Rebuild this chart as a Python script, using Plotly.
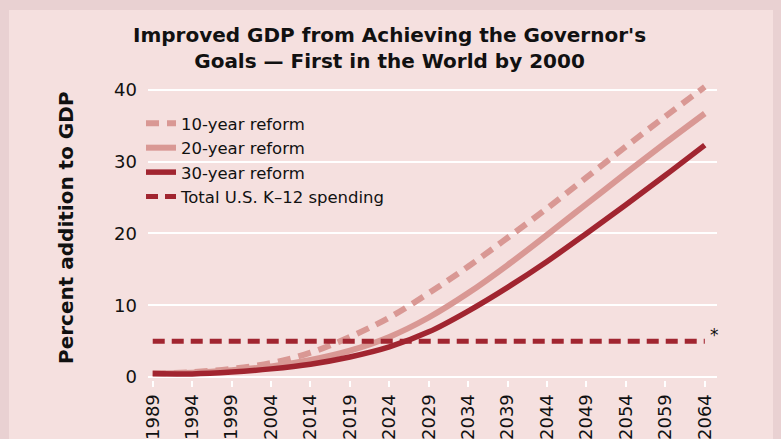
import plotly.graph_objects as go

years = ["1989", "1994", "1999", "2004", "2014", "2019", "2024", "2029",
         "2034", "2039", "2044", "2049", "2054", "2059", "2064"]
reform_10 = [0.5, 0.7, 1.15, 1.95, 3.4, 5.6, 8.3, 11.7, 15.4, 19.4, 23.5, 27.8, 32.1, 36.3, 40.4]
reform_20 = [0.5, 0.6, 0.95, 1.5, 2.4, 3.7, 5.6, 8.3, 11.7, 15.6, 19.8, 24.1, 28.4, 32.6, 36.7]
reform_30 = [0.5, 0.45, 0.7, 1.15, 1.8, 2.8, 4.2, 6.3, 9.2, 12.5, 16.1, 20.0, 24.0, 28.1, 32.3]
k12_spending = [5.0] * len(years)

DARK = "#a12530"
LIGHT = "#d99894"
OUTER = "#e9d1d2"
INNER = "#f5e0df"
FONT = "DejaVu Sans"

fig = go.Figure()
fig.add_trace(go.Scatter(x=years, y=reform_10, name="10-year reform", mode="lines",
                         line=dict(color=LIGHT, width=6, dash="13px,8px", shape="spline")))
fig.add_trace(go.Scatter(x=years, y=reform_20, name="20-year reform", mode="lines",
                         line=dict(color=LIGHT, width=6, shape="spline")))
fig.add_trace(go.Scatter(x=years, y=reform_30, name="30-year reform", mode="lines",
                         line=dict(color=DARK, width=5.5, shape="spline")))
fig.add_trace(go.Scatter(x=years, y=k12_spending, name="Total U.S. K–12 spending", mode="lines",
                         line=dict(color=DARK, width=5, dash="12px,7px")))

W, H = 781, 439
L, R, T, B = 148, 64, 79, 59
pw, ph = W - L - R, H - T - B

def px_x(p):
    return (p - L) / pw

def px_y(p):
    return (H - B - p) / ph

fig.add_shape(type="rect", xref="paper", yref="paper", layer="below",
              x0=px_x(9), x1=px_x(773), y0=px_y(460), y1=px_y(10),
              fillcolor=INNER, line=dict(width=0))

fig.add_annotation(x=len(years) - 1, y=k12_spending[-1], xref="x", yref="y", text="*",
                   showarrow=False, xanchor="left", yanchor="middle", xshift=3, yshift=6,
                   font=dict(family=FONT, size=17, color="#111"))

fig.add_annotation(x=px_x(66), y=px_y(228), xref="paper", yref="paper",
                   xanchor="center", yanchor="middle",
                   text="<b>Percent addition to GDP</b>", textangle=-90, showarrow=False,
                   font=dict(family=FONT, size=20, color="#111"))

fig.add_annotation(x=px_x(389), y=px_y(47.5), xref="paper", yref="paper",
                   xanchor="center", yanchor="middle",
                   text="<b>Improved GDP from Achieving the Governor's<br>"
                        "Goals — First in the World by 2000</b>",
                   showarrow=False, font=dict(family=FONT, size=20, color="#111"))

fig.update_layout(
    width=W, height=H,
    margin=dict(l=L, r=R, t=T, b=B, autoexpand=False),
    paper_bgcolor=OUTER, plot_bgcolor="rgba(0,0,0,0)",
    font=dict(family=FONT, size=16, color="#111"),
    showlegend=True,
    legend=dict(x=px_x(141), y=px_y(106), xanchor="left", yanchor="top",
                bgcolor="rgba(0,0,0,0)", font=dict(family=FONT, size=16.5, color="#111"),
                itemwidth=30, tracegroupgap=0),
    xaxis=dict(type="category", range=[-0.12, 14.31], showgrid=False, zeroline=False,
               showline=False, ticks="outside", ticklen=6, tickwidth=2, tickcolor="white",
               tickangle=-90, tickfont=dict(family=FONT, size=18, color="#111")),
    yaxis=dict(range=[-0.4, 41.5], tickvals=[0, 10, 20, 30, 40], showgrid=True,
               gridcolor="white", gridwidth=2, zeroline=False, showline=False,
               ticks="", ticklabelstandoff=10,
               tickfont=dict(family=FONT, size=18, color="#111")),
)

fig.write_html("out.html")
